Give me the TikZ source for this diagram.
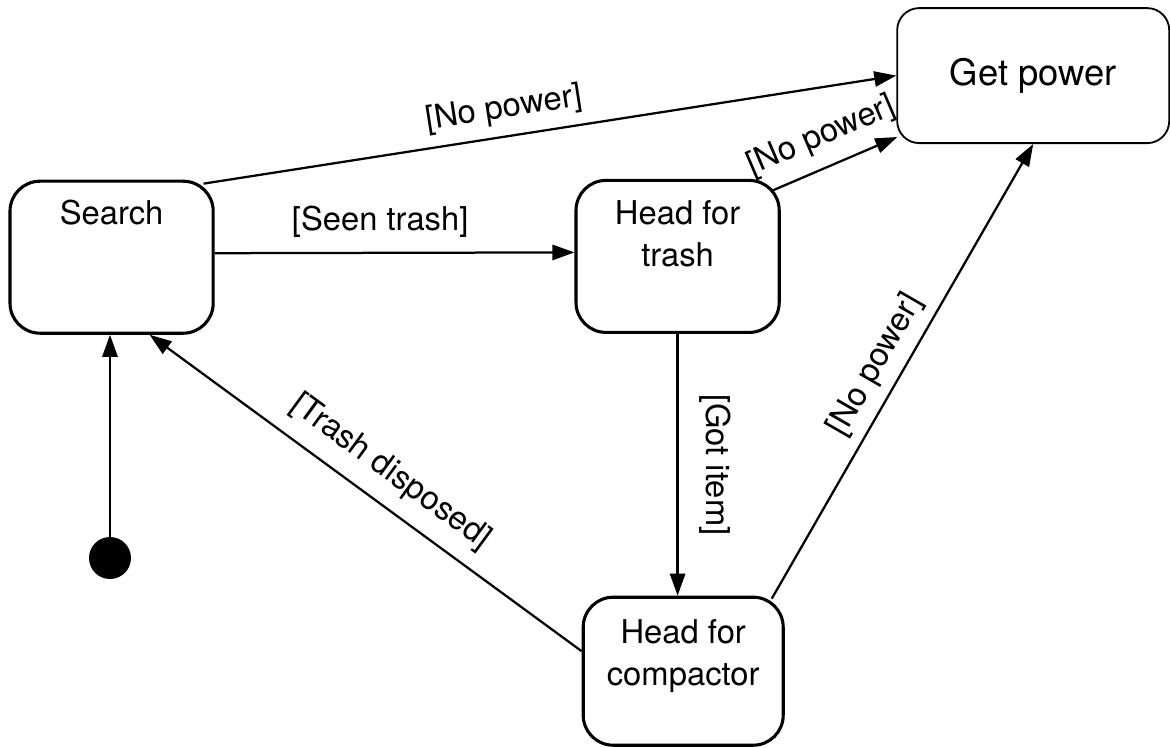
\documentclass[tikz,border=0pt]{standalone}
\usepackage{fontspec}
\setmainfont{TeX Gyre Heros}
\usetikzlibrary{arrows.meta, positioning}
\newcommand{\statefont}{\fontsize{23.3}{29.5}\selectfont}
\newcommand{\bigstatefont}{\fontsize{25.9}{31}\selectfont}
\tikzset{
  state/.style={draw, line width=2.2pt, rounded corners=0.75cm, minimum width=5.08cm, minimum height=3.8cm, inner sep=0pt},
  statename/.style={align=center, font=\statefont},
  guard/.style={font=\statefont, sloped},
  trans/.style={line width=1.6pt, -{Triangle[length=0.55cm, width=0.38cm]}}
}

\begin{document}
\begin{tikzpicture}[font=\statefont]
\useasboundingbox (0,0) rectangle (29.25,-18.675);

% States
\node[state, label={[statename, below=0.375cm]north:Search}] (search) at (2.79,-6.43) {};
\node[state, label={[statename, below=0.42cm]north:Head for\\trash}] (trash) at (16.94,-6.41) {};
\node[state, minimum width=5cm, minimum height=3.7cm, label={[statename, below=0.475cm]north:Head for\\compactor}] (compactor) at (17.08,-16.78) {};
\node[state, line width=1.3pt, rounded corners=0.55cm, minimum width=6.8cm, minimum height=3.375cm, font=\bigstatefont] (power) at (25.83,-1.89) {Get power};
\node[circle, fill, minimum size=1.05cm, inner sep=0pt] (start) at (2.75,-13.95) {};

% Transitions
\draw[trans] (start) -- (start |- search.south);
\draw[trans] ([yshift=1mm]search.east) -- ([yshift=1mm]trash.west) node[guard, pos=0.46, above=0.24cm] {[Seen trash]};
\draw[trans] ([shift={(-0.28,-0.1)}]search.north east) -- (power.west) node[guard, pos=0.44, above=0.15cm] {[No power]};
\draw[trans] ([shift={(-0.225,-0.3)}]trash.north east) -- ([shift={(0.025,0.175)}]power.south west) node[guard, pos=0.49, above=0.22cm] {[No power]};
\draw[trans] (trash.south) -- (trash.south |- compactor.north) node[guard, pos=0.5, above=0.4cm] {[Got item]};
\draw[trans] ([shift={(-0.325,-0.075)}]compactor.north east) -- (power.south) node[guard, pos=0.485, above=0.12cm] {[No power]};
\draw[trans] ([yshift=0.5cm]compactor.west) -- ([xshift=0.95cm]search.south) node[guard, pos=0.485, above=0.25cm] {[Trash disposed]};
\end{tikzpicture}
\end{document}
